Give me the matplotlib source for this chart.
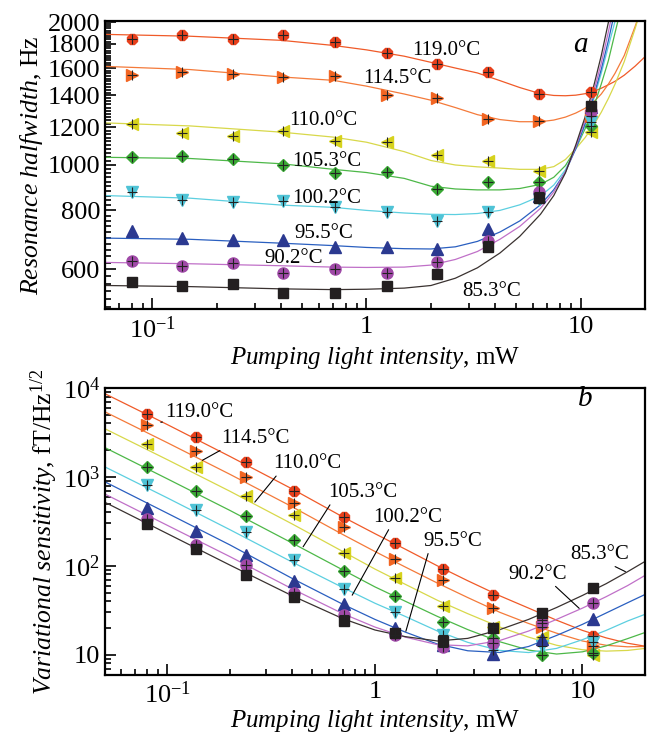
import matplotlib
matplotlib.use("Agg")
import matplotlib.pyplot as plt
import matplotlib.ticker as mticker
import numpy as np

plt.rcParams['font.family'] = 'Liberation Serif'
plt.rcParams['mathtext.fontset'] = 'custom'
plt.rcParams['mathtext.rm'] = 'Liberation Serif'
plt.rcParams['mathtext.it'] = 'Liberation Serif:italic'
plt.rcParams['mathtext.bf'] = 'Liberation Serif:bold'

temps = ['119.0', '114.5', '110.0', '105.3', '100.2', '95.5', '90.2', '85.3']

# measured points (pump power, mW)
p_meas = [0.08, 0.137, 0.238, 0.407, 0.71, 1.25, 2.13, 3.7, 6.4, 11.2]

# panel a: resonance halfwidth, Hz
hw_pts = [
    [1846, 1876, 1840, 1876, 1816, 1721, 1634, 1569, 1412, 1423],
    [1543, 1569, 1551, 1531, 1536, 1405, 1384, 1250, 1235, 1264],
    [1219, 1167, 1152, 1176, 1120, 1115, 1050, 1020, 971, 1170],
    [1040, 1045, 1025, 998, 958, 966, 888, 917, 917, 1209],
    [877, 842, 832, 839, 815, 795, 761, 795, 846, 1229],
    [722, 701, 692, 692, 668, 669, 663, 731, 860, 1321],
    [626, 611, 620, 591, 601, 591, 623, 690, 874, 1301],
    [565, 554, 559, 536, 536, 554, 587, 668, 850, 1333],
]

# fitted curves of panel a
p_fit_a = [0.06, 0.15, 0.4, 0.7, 1.0, 1.5, 2.0, 2.6, 3.3, 4.2, 5.2, 6.5, 7.5, 8.5,
           9.5, 10.5, 11.5, 12.5, 13.5, 14.5, 16.0, 18.0, 20.0]
hw_fit = [
    [1885, 1868, 1831, 1786, 1748, 1695, 1645, 1600, 1562, 1505, 1455, 1412, 1400, 1398,
     1402, 1412, 1428, 1450, 1475, 1500, 1545, 1615, 1690],
    [1613, 1588, 1532, 1507, 1465, 1410, 1368, 1320, 1275, 1245, 1232, 1232, 1242, 1260,
     1285, 1315, 1355, 1410, 1480, 1560, 1700, 1960, 2250],
    [1225, 1207, 1171, 1143, 1115, 1065, 1020, 998, 989, 983, 977, 977, 990, 1025,
     1080, 1140, 1210, 1290, 1380, 1480, 1650, 1940, 2270],
    [1036, 1030, 1004, 977, 962, 935, 900, 888, 884, 884, 890, 908, 940, 995,
     1080, 1190, 1320, 1480, 1660, 1900, 2280, 2800, 3400],
    [860, 849, 821, 812, 800, 790, 785, 784, 788, 800, 822, 858, 905, 975,
     1080, 1210, 1370, 1560, 1780, 2010, 2500, 3150, 3800],
    [699, 695, 682, 674, 668, 664, 663, 670, 688, 720, 760, 822, 885, 965,
     1080, 1220, 1390, 1590, 1830, 2120, 2650, 3350, 4100],
    [621, 617, 611, 607, 606, 607, 613, 630, 655, 695, 740, 808, 875, 965,
     1090, 1240, 1420, 1640, 1910, 2230, 2800, 3600, 4400],
    [555, 552, 546, 544, 545, 548, 555, 575, 605, 650, 705, 785, 860, 960,
     1100, 1260, 1460, 1700, 2000, 2350, 2950, 3800, 4700],
]

# panel b: variational sensitivity, fT/Hz^1/2
sens_pts = [
    [5150, 2825, 1486, 698, 352, 182, 93.1, 47.6, 24.6, 16.3],
    [3810, 1953, 1009, 508, 272, 118, 68.9, 33.3, 20.8, 12.6],
    [2360, 1307, 604, 373, 139, 73.8, 35.3, 20.7, 16, 10],
    [1295, 698, 367, 193, 87.7, 45.6, 23.6, 15.4, 9.85, 10.4],
    [807, 428, 239, 117, 55.6, 30.6, 16.7, 11.4, 12.4, 14],
    [443, 245, 131, 67.7, 37.2, 19.9, 12.9, 10.3, 15.1, 25.2],
    [337, 173, 101, 49.8, 28, 16.5, 12.1, 13.5, 22.6, 37.9],
    [296, 156, 79.8, 44.9, 24.2, 17.5, 14.3, 20.2, 29.8, 57],
]

p_fit_b = [0.05, 0.1, 0.2, 0.4, 0.7, 1.0, 1.4, 2.0, 2.8, 4.0, 5.5, 7.5, 10.0, 13.0, 16.5, 20.0]
sens_fit = [
    [8610, 3870, 1700, 730, 355, 230, 154, 100, 68, 46, 33.5, 24.5, 18.8, 15.5, 13.5, 12.5],
    [5390, 2420, 1070, 460, 225, 145, 97, 64, 44, 30, 22.5, 17.5, 14.3, 12.8, 12.3, 12.4],
    [3476, 1560, 690, 295, 145, 92, 62, 41, 29, 20.5, 15.8, 12.8, 11.4, 11.0, 11.2, 11.8],
    [2133, 950, 420, 180, 90, 58, 40, 27, 19.2, 14, 11.3, 10.2, 10.8, 12.6, 15.2, 17.8],
    [1295, 580, 255, 110, 57, 38, 27, 18.5, 13.8, 11.2, 10.6, 11.8, 14.8, 18.8, 24, 28.5],
    [880, 390, 172, 72, 37, 25, 18, 13.2, 11.1, 10.6, 12.4, 16.5, 22, 29.5, 38.5, 47.6],
    [641, 285, 127, 55, 29, 20.5, 15.8, 13, 12.6, 14.5, 18.5, 25, 33.5, 45, 60, 78],
    [518, 230, 102, 46, 25.5, 19, 16, 14.3, 15.3, 19.2, 25, 34, 46.5, 63, 86, 112],
]

mk_colors = ['#e8401c', '#f26522', '#d6d21c', '#3aa935', '#4fc3d6', '#2b3990', '#a04aa8', '#231f20']
ln_colors = ['#f05a28', '#f47a3a', '#d8d84a', '#4db848', '#5ccfe0', '#2a5fc0', '#c070c8', '#3a3230']
markers = ['8', '>', '<', 'D', 'v', '^', 'o', 's']
msizes = [8, 8.5, 8.5, 6.5, 8.5, 8.5, 8, 7]
has_cross = [True, True, True, True, True, False, True, False]

fig = plt.figure(figsize=(6.48, 7.38), dpi=100)
ax1 = fig.add_axes([0.162, 0.5813, 0.8333, 0.3907])
ax2 = fig.add_axes([0.162, 0.086, 0.8333, 0.3883])

for i in range(len(temps)):
    ax1.plot(p_fit_a, hw_fit[i], color=ln_colors[i], lw=0.9, zorder=2)
    ax1.plot(p_meas, hw_pts[i], ls='none', marker=markers[i], ms=msizes[i],
             color=mk_colors[i], mec=mk_colors[i], zorder=3)
    ax2.plot(p_fit_b, sens_fit[i], color=ln_colors[i], lw=0.9, zorder=2)
    ax2.plot(p_meas, sens_pts[i], ls='none', marker=markers[i], ms=msizes[i],
             color=mk_colors[i], mec=mk_colors[i], zorder=3)
    if has_cross[i]:
        ax1.plot(p_meas, hw_pts[i], ls='none', marker='+', ms=6.5, mew=0.8,
                 color='#222222', zorder=4)
        ax2.plot(p_meas, sens_pts[i], ls='none', marker='+', ms=6.5, mew=0.8,
                 color='#222222', zorder=4)

# ---- panel a axes
ax1.set_xscale('log')
ax1.set_yscale('log')
ax1.set_xlim(0.06, 20)
ax1.set_ylim(495, 2015)
ax1.yaxis.set_major_locator(mticker.FixedLocator([600, 800, 1000, 1200, 1400, 1600, 1800, 2000]))
ax1.yaxis.set_major_formatter(mticker.FixedFormatter(['600', '800', '1000', '1200', '1400', '1600', '1800', '2000']))
ax1.yaxis.set_minor_locator(mticker.FixedLocator(np.arange(500, 2001, 20)))
ax1.yaxis.set_minor_formatter(mticker.NullFormatter())

# ---- panel b axes
ax2.set_xscale('log')
ax2.set_yscale('log')
ax2.set_xlim(0.05, 20)
ax2.set_ylim(6, 1.0e4)
ax2.yaxis.set_major_locator(mticker.FixedLocator([10, 100, 1000, 10000]))
ax2.yaxis.set_major_formatter(mticker.FixedFormatter(['10', '$10^2$', '$10^3$', '$10^4$']))
ax2.yaxis.set_minor_locator(mticker.LogLocator(base=10, subs=np.arange(2, 10)))
ax2.yaxis.set_minor_formatter(mticker.NullFormatter())

for ax in (ax1, ax2):
    ax.xaxis.set_major_locator(mticker.FixedLocator([0.1, 1, 10]))
    ax.xaxis.set_major_formatter(mticker.FixedFormatter(['$10^{-1}$', '1', '10']))
    ax.xaxis.set_minor_locator(mticker.LogLocator(base=10, subs=np.arange(2, 10)))
    ax.xaxis.set_minor_formatter(mticker.NullFormatter())
    ax.tick_params(which='both', direction='in', top=False, right=False, labelsize=19, width=1.2)
    ax.tick_params(which='major', length=8)
    ax.tick_params(which='minor', length=4)
    ax.tick_params(axis='x', which='major', pad=5)
    for s in ax.spines.values():
        s.set_linewidth(1.6)

ax1.set_xlabel(r'$\mathit{Pumping\ light\ intensity}$, mW', fontsize=18, labelpad=2)
ax2.set_xlabel(r'$\mathit{Pumping\ light\ intensity}$, mW', fontsize=18, labelpad=0)
ax1.set_ylabel(r'$\mathit{Resonance\ halfwidth}$, Hz', fontsize=18.5, labelpad=2)
ax2.set_ylabel(r'$\mathit{Variational\ sensitivity}$, fT/Hz$^{1/2}$', fontsize=18.5, labelpad=2)

# temperature labels, panel a
lab_a_pos = [(1.63, 1702), (0.963, 1484), (0.435, 1215), (0.4495, 995),
             (0.4495, 831), (0.459, 700), (0.333, 620), (2.79, 528)]
for t, (x, y) in zip(temps, lab_a_pos):
    ax1.text(x, y, t + '°C', fontsize=15, ha='left', va='baseline')
ax1.text(9.28, 1727, 'a', fontsize=21, style='italic', ha='left', va='baseline')

# temperature labels with leader lines, panel b
lab_b_tip = [(0.0929, 4117), (0.1474, 1537), (0.2636, 521), (0.4507, 164),
             (0.7767, 46.8), (1.409, 18.4), (9.64, 33.3), (16.1, 86.1)]
lab_b_pos = [(0.0975, 4775), (0.1823, 2421), (0.3224, 1250), (0.5957, 593),
             (0.9856, 312), (1.704, 168), (4.408, 71.9), (8.715, 120)]
lab_b_rel = [0.02, 0.05, 0.08, 0.05, 0.24, 0.1, 0.75, 0.67]
for t, tip, pos, rx in zip(temps, lab_b_tip, lab_b_pos, lab_b_rel):
    ax2.annotate(t + '°C', xy=tip, xytext=pos, fontsize=15, ha='left', va='baseline',
                 arrowprops=dict(arrowstyle='-', lw=0.8, color='k', shrinkA=0, shrinkB=0,
                                 relpos=(rx, 0.0)))
ax2.text(9.5, 6200, 'b', fontsize=21, style='italic', ha='left', va='baseline')

fig.savefig('out.png', dpi=100)
